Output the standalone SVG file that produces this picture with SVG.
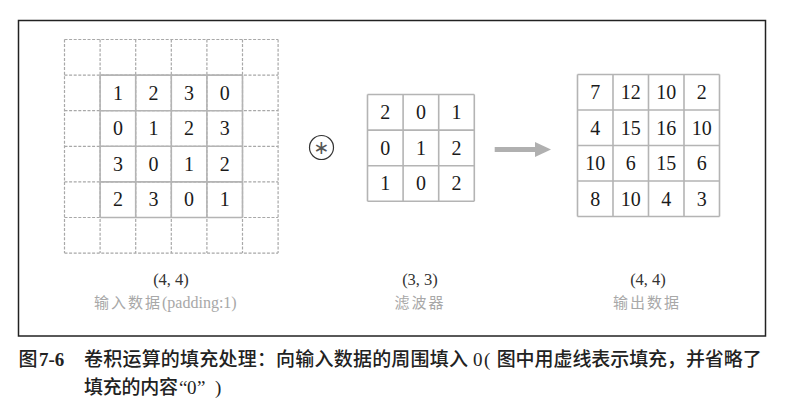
<svg xmlns="http://www.w3.org/2000/svg" width="806" height="416" viewBox="0 0 806 416">
<defs>
<style>
.frame{fill:none;stroke:#222;stroke-width:1.5}
.dash{fill:none;stroke:#a8a8a8;stroke-width:1.2;stroke-dasharray:3 1.6}
.grid{fill:none;stroke:#b4b4b4;stroke-width:1.6}
.num{font-family:"Liberation Serif","DejaVu Serif",serif;font-size:20px;fill:#1a1a1a;text-anchor:middle}
.dim{font-family:"Liberation Serif","DejaVu Serif",serif;font-size:16.5px;fill:#333;text-anchor:middle}
.lbl{font-family:"Noto Sans CJK SC","Noto Sans",sans-serif;font-size:15px;fill:#a8a8a8;letter-spacing:2px}
.lblS{font-family:"Liberation Serif",serif;font-size:16px;fill:#a8a8a8}
.cap{font-family:"Noto Sans CJK SC","Noto Sans",sans-serif;font-size:19px;fill:#222;font-weight:500}
.capS{font-family:"Liberation Serif","DejaVu Serif",serif;font-size:19px;fill:#222}
</style>
<marker id="ah" markerWidth="4" markerHeight="3" refX="0" refY="1.5" orient="auto" markerUnits="strokeWidth">
<path d="M0,0 L3.2,1.5 L0,3 Z" fill="#b0b0b0"/>
</marker>
</defs>
<rect class="frame" x="18.5" y="20.5" width="747" height="315.5"/>

<g id="input">
<path class="dash" d="M64.5,39.5H278.1M64.5,75.1H278.1M64.5,110.7H278.1M64.5,146.3H278.1M64.5,181.9H278.1M64.5,217.5H278.1M64.5,253.1H278.1M64.5,39.5V253.1M100.1,39.5V253.1M135.7,39.5V253.1M171.3,39.5V253.1M206.9,39.5V253.1M242.5,39.5V253.1M278.1,39.5V253.1"/>
<path class="grid" d="M100.1,75.1H242.5M100.1,110.7H242.5M100.1,146.3H242.5M100.1,181.9H242.5M100.1,217.5H242.5M100.1,75.1V217.5M135.7,75.1V217.5M171.3,75.1V217.5M206.9,75.1V217.5M242.5,75.1V217.5"/>
<g class="num">
<text x="117.9" y="99.6">1</text><text x="153.5" y="99.6">2</text><text x="189.1" y="99.6">3</text><text x="224.7" y="99.6">0</text>
<text x="117.9" y="135.2">0</text><text x="153.5" y="135.2">1</text><text x="189.1" y="135.2">2</text><text x="224.7" y="135.2">3</text>
<text x="117.9" y="170.8">3</text><text x="153.5" y="170.8">0</text><text x="189.1" y="170.8">1</text><text x="224.7" y="170.8">2</text>
<text x="117.9" y="206.4">2</text><text x="153.5" y="206.4">3</text><text x="189.1" y="206.4">0</text><text x="224.7" y="206.4">1</text>
</g>
<text class="dim" x="171" y="285">(4, 4)</text>
<text x="94" y="308"><tspan class="lbl">输入数据</tspan><tspan class="lblS">(padding:1)</tspan></text>
</g>

<g id="op">
<circle cx="321.5" cy="147.5" r="12" fill="none" stroke="#333" stroke-width="1.2"/>
<text x="321.5" y="154" text-anchor="middle" font-family="DejaVu Sans,sans-serif" font-size="19" fill="#555">∗</text>
</g>

<g id="filter">
<path class="grid" d="M367.5,94.5H474.3M367.5,130.1H474.3M367.5,165.7H474.3M367.5,201.3H474.3M367.5,94.5V201.3M403.1,94.5V201.3M438.7,94.5V201.3M474.3,94.5V201.3"/>
<g class="num">
<text x="385.3" y="119">2</text><text x="420.9" y="119">0</text><text x="456.5" y="119">1</text>
<text x="385.3" y="154.6">0</text><text x="420.9" y="154.6">1</text><text x="456.5" y="154.6">2</text>
<text x="385.3" y="190.2">1</text><text x="420.9" y="190.2">0</text><text x="456.5" y="190.2">2</text>
</g>
<text class="dim" x="420" y="285">(3, 3)</text>
<text class="lbl" x="420" y="308" text-anchor="middle">滤波器</text>
</g>

<g id="connectors">
<path d="M494.7,149.5H535" stroke="#b0b0b0" stroke-width="5" fill="none" marker-end="url(#ah)"/>
</g>

<g id="output">
<path class="grid" d="M577.5,74.5H719.5M577.5,110H719.5M577.5,145.5H719.5M577.5,181H719.5M577.5,216.5H719.5M577.5,74.5V216.5M613,74.5V216.5M648.5,74.5V216.5M684,74.5V216.5M719.5,74.5V216.5"/>
<g class="num">
<text x="595.25" y="99">7</text><text x="630.75" y="99">12</text><text x="666.25" y="99">10</text><text x="701.75" y="99">2</text>
<text x="595.25" y="134.5">4</text><text x="630.75" y="134.5">15</text><text x="666.25" y="134.5">16</text><text x="701.75" y="134.5">10</text>
<text x="595.25" y="170">10</text><text x="630.75" y="170">6</text><text x="666.25" y="170">15</text><text x="701.75" y="170">6</text>
<text x="595.25" y="205.5">8</text><text x="630.75" y="205.5">10</text><text x="666.25" y="205.5">4</text><text x="701.75" y="205.5">3</text>
</g>
<text class="dim" x="648" y="285">(4, 4)</text>
<text class="lbl" x="647" y="308" text-anchor="middle">输出数据</text>
</g>

<g id="caption">
<text class="cap" x="18.5" y="366">图</text>
<text class="capS" x="39" y="366" font-weight="bold">7-6</text>
<text class="cap" x="84" y="366" textLength="384" lengthAdjust="spacing">卷积运算的填充处理：向输入数据的周围填入</text>
<text class="capS" x="473" y="366">0</text>
<text class="capS" x="484" y="366">(</text>
<text class="cap" x="496.7" y="366" textLength="265" lengthAdjust="spacing">图中用虚线表示填充，并省略了</text>
<text class="cap" x="84" y="394" textLength="94" lengthAdjust="spacing">填充的内容</text>
<text class="capS" x="179" y="394">“</text>
<text class="capS" x="187" y="394">0</text>
<text class="capS" x="197" y="394">”</text>
<text class="capS" x="215" y="394">)</text>
</g>
</svg>
